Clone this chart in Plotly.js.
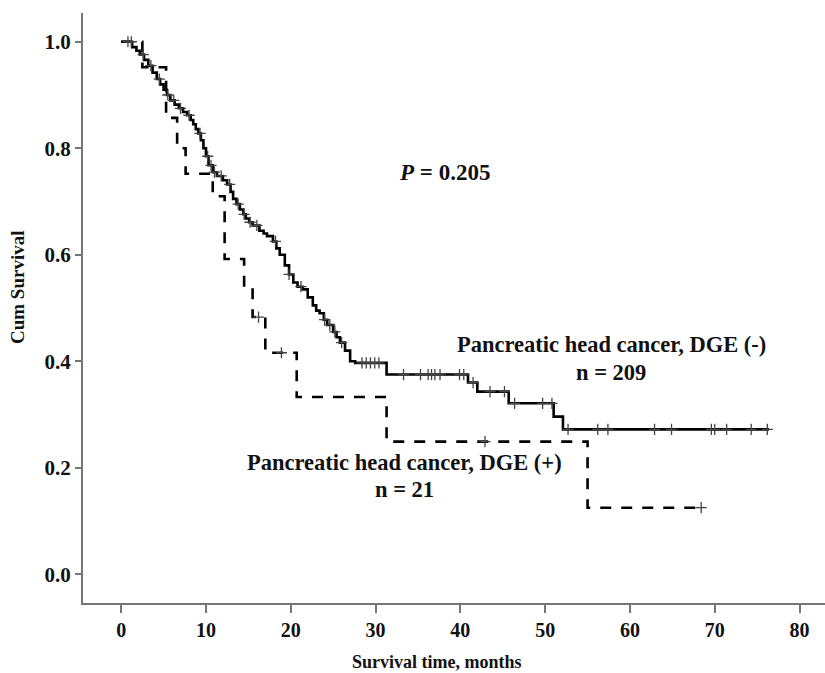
<!DOCTYPE html>
<html>
<head>
<meta charset="utf-8">
<script src="https://cdn.plot.ly/plotly-3.0.1.min.js"></script>
<style>html,body{margin:0;padding:0;background:#fff;}#chart{width:825px;height:673px;}</style>
</head>
<body>
<div id="chart"></div>
<script>
// DGE (-), n = 209 : step times (months) and cumulative survival
const negTime = [0, 1.3, 1.8, 2.2, 2.7, 3.2, 3.7, 4.2, 4.6, 5.0, 5.4, 5.8, 6.3, 6.8, 7.3, 7.8, 8.2, 8.5, 8.8, 9.1, 9.4, 9.7, 10.0, 10.3, 10.8, 11.3, 12.0, 12.5, 12.9, 13.2, 13.6, 14.0, 14.4, 14.7, 15.1, 15.5, 16.3, 16.8, 17.2, 17.9, 18.3, 18.7, 19.3, 19.8, 20.3, 20.8, 21.4, 22.0, 22.6, 23.0, 23.4, 23.9, 24.3, 25.0, 25.4, 25.8, 26.4, 27.0, 27.6, 31.3, 40.9, 42.0, 45.7, 51.0, 52.1, 76.4];
const negSurv = [1.0, 0.99, 0.983, 0.976, 0.966, 0.955, 0.942, 0.93, 0.92, 0.91, 0.9, 0.89, 0.882, 0.875, 0.868, 0.862, 0.853, 0.845, 0.836, 0.828, 0.815, 0.80, 0.785, 0.768, 0.755, 0.748, 0.74, 0.732, 0.718, 0.705, 0.695, 0.685, 0.676, 0.668, 0.661, 0.655, 0.645, 0.64, 0.635, 0.625, 0.612, 0.60, 0.58, 0.563, 0.548, 0.54, 0.535, 0.52, 0.505, 0.495, 0.49, 0.478, 0.468, 0.455, 0.445, 0.435, 0.42, 0.40, 0.397, 0.375, 0.36, 0.343, 0.321, 0.296, 0.272, 0.272];
const negCensor = [0.8, 1.2, 2.6, 3.5, 4.5, 5.5, 6.2, 7.0, 8.0, 9.3, 10.2, 10.6, 11.0, 11.8, 12.8, 13.8, 14.5, 15.2, 16.0, 18.2, 19.8, 21.2, 24.0, 24.6, 25.2, 26.0, 28.4, 28.9, 29.4, 29.9, 30.4, 33.3, 35.3, 36.2, 36.6, 37.0, 37.6, 39.9, 40.4, 41.5, 43.5, 45.2, 46.4, 49.7, 50.8, 52.7, 56.2, 57.4, 62.9, 64.9, 69.6, 70.0, 71.4, 74.3, 76.2];

// DGE (+), n = 21
const posTime = [0, 2.5, 5.3, 6.6, 7.6, 10.8, 12.2, 14.5, 15.5, 17.0, 20.7, 31.3, 55.0, 68.4];
const posSurv = [1.0, 0.952, 0.857, 0.80, 0.752, 0.71, 0.592, 0.537, 0.483, 0.416, 0.333, 0.249, 0.125, 0.125];
const posCensor = [16.2, 18.9, 42.9, 68.4];

const xTicks = [0, 10, 20, 30, 40, 50, 60, 70, 80];
const yTicks = [0.0, 0.2, 0.4, 0.6, 0.8, 1.0];
const yTickText = ['0.0', '0.2', '0.4', '0.6', '0.8', '1.0'];

function stepAt(times, surv, t) {
  let s = surv[0];
  for (let i = 0; i < times.length; i++) { if (times[i] <= t) s = surv[i]; }
  return s;
}

const lineW = 2.6;
const censorMarker = {symbol: 'cross-thin', size: 8, color: '#444', line: {width: 1.3, color: '#444'}};

const traces = [
  {x: negTime, y: negSurv, mode: 'lines', line: {shape: 'hv', color: '#000', width: lineW}, hoverinfo: 'skip', showlegend: false},
  {x: posTime, y: posSurv, mode: 'lines', line: {shape: 'hv', color: '#000', width: lineW, dash: '11px,10px'}, hoverinfo: 'skip', showlegend: false},
  {x: negCensor, y: negCensor.map(t => stepAt(negTime, negSurv, t)), mode: 'markers', marker: censorMarker, hoverinfo: 'skip', showlegend: false},
  {x: posCensor, y: posCensor.map(t => stepAt(posTime, posSurv, t)), mode: 'markers', marker: censorMarker, hoverinfo: 'skip', showlegend: false}
];

const serif = 'Liberation Serif, Times New Roman, serif';
const axisColor = '#767676';
const txt = '#111';

const layout = {
  width: 825, height: 673,
  margin: {l: 83, r: 0, t: 13, b: 70},
  paper_bgcolor: '#fff', plot_bgcolor: '#fff',
  showlegend: false,
  xaxis: {
    range: [-4.5, 83.0], tickvals: xTicks, ticktext: xTicks.map(String),
    showgrid: false, zeroline: false, showline: true, linecolor: axisColor, linewidth: 2,
    ticks: 'outside', ticklen: 8, tickwidth: 2, tickcolor: axisColor,
    tickfont: {family: serif, size: 20, color: txt, weight: 'bold'},
    title: {text: ''}
  },
  yaxis: {
    range: [-0.054, 1.054], tickvals: yTicks, ticktext: yTickText,
    showgrid: false, zeroline: false, showline: true, linecolor: axisColor, linewidth: 2,
    ticks: 'outside', ticklen: 6, tickwidth: 2, tickcolor: axisColor,
    tickfont: {family: serif, size: 21, color: txt, weight: 'bold'},
    title: {text: ''}
  },
  annotations: [
    {xref: 'paper', yref: 'paper', x: (437 - 83) / 742, y: (603 - 662) / 590, yanchor: 'middle', xanchor: 'center',
     text: '<b>Survival time, months</b>', showarrow: false, font: {family: serif, size: 18, color: txt}},
    {xref: 'paper', yref: 'paper', x: (17 - 83) / 742, y: (603 - 287) / 590, xanchor: 'center', yanchor: 'middle', textangle: -90,
     text: '<b>Cum Survival</b>', showarrow: false, font: {family: serif, size: 19, color: txt}},
    {xref: 'x', yref: 'y', x: 38.1, y: 0.755, text: '<b><i>P</i> = 0.205</b>', showarrow: false, font: {family: serif, size: 23, color: txt}},
    {xref: 'x', yref: 'y', x: 57.8, y: 0.431, text: '<b>Pancreatic head cancer, DGE (-)</b>', showarrow: false, font: {family: serif, size: 22.5, color: txt}},
    {xref: 'x', yref: 'y', x: 57.8, y: 0.378, text: '<b>n = 209</b>', showarrow: false, font: {family: serif, size: 22.5, color: txt}},
    {xref: 'x', yref: 'y', x: 33.4, y: 0.210, text: '<b>Pancreatic head cancer, DGE (+)</b>', showarrow: false, font: {family: serif, size: 22.5, color: txt}},
    {xref: 'x', yref: 'y', x: 33.4, y: 0.159, text: '<b>n = 21</b>', showarrow: false, font: {family: serif, size: 22.5, color: txt}}
  ]
};

Plotly.newPlot('chart', traces, layout, {staticPlot: true, displayModeBar: false});
</script>
</body>
</html>
